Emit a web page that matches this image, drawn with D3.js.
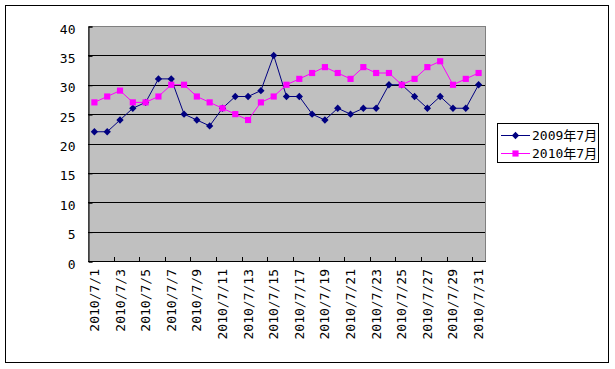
<!DOCTYPE html>
<html>
<head>
<meta charset="utf-8">
<style>
  body { margin: 0; background: #fff; }
  svg text { font-family: "DejaVu Sans Mono", "Noto Sans CJK JP", monospace; font-size: 13px; fill: #000; }
</style>
</head>
<body>
<svg width="615" height="369"></svg>
<script src="https://d3js.org/d3.v7.min.js"></script>
<script>
var days = [];
for (var i = 1; i <= 31; i++) days.push("2010/7/" + i);

var seriesNames = ["2009年7月", "2010年7月"];
var v2009 = [22, 22, 24, 26, 27, 31, 31, 25, 24, 23, 26, 28, 28, 29, 35, 28, 28, 25, 24, 26, 25, 26, 26, 30, 30, 28, 26, 28, 26, 26, 30];
var v2010 = [27, 28, 29, 27, 27, 28, 30, 30, 28, 27, 26, 25, 24, 27, 28, 30, 31, 32, 33, 32, 31, 33, 32, 32, 30, 31, 33, 34, 30, 31, 32];
var yTicks = [0, 5, 10, 15, 20, 25, 30, 35, 40];

var colors = ["#000080", "#ff00ff"];
var series = [v2009, v2010];

var svg = d3.select("svg");

// outer chart border
svg.append("rect")
    .attr("x", 5.5).attr("y", 5.5)
    .attr("width", 603).attr("height", 357)
    .attr("fill", "#fff").attr("stroke", "#000");

var plotL = 88, plotR = 485, plotT = 26, plotB = 261;

var x = d3.scaleBand().domain(days).range([plotL, plotR]).padding(0);
var y = d3.scaleLinear().domain([0, 40]).range([plotB, plotT]);
function cy(v) { return Math.round(y(v)) + 0.5; }
function cx(d) { return x(d) + x.bandwidth() / 2; }

// plot area
svg.append("rect")
    .attr("x", plotL + 0.5).attr("y", plotT + 0.5)
    .attr("width", plotR - plotL).attr("height", plotB - plotT)
    .attr("fill", "#c0c0c0").attr("stroke", "#808080");

// grid lines
svg.append("g").selectAll("line")
    .data(yTicks.filter(function(d) { return d > 0 && d < 40; }))
    .enter().append("line")
    .attr("x1", plotL).attr("x2", plotR)
    .attr("y1", cy).attr("y2", cy)
    .attr("stroke", "#000");

// y axis
var yAxis = svg.append("g")
    .attr("transform", "translate(" + (plotL + 0.5) + ",0.5)")
    .call(d3.axisLeft(y).tickValues(yTicks).tickSize(-4).tickPadding(13));
yAxis.select(".domain").attr("stroke", "#000");
yAxis.selectAll(".tick line").attr("stroke", "#000");
yAxis.selectAll("text").attr("font-family", null).attr("font-size", null).attr("dy", "0.5em");

// x axis baseline + ticks every two days
svg.append("line")
    .attr("x1", plotL).attr("x2", plotR + 1)
    .attr("y1", plotB + 0.5).attr("y2", plotB + 0.5)
    .attr("stroke", "#000");

svg.append("g").selectAll("line")
    .data(days.filter(function(d, i) { return i > 0 && i % 2 == 0; }))
    .enter().append("line")
    .attr("x1", function(d) { return Math.round(x(d)) + 0.5; })
    .attr("x2", function(d) { return Math.round(x(d)) + 0.5; })
    .attr("y1", plotB - 4).attr("y2", plotB)
    .attr("stroke", "#000");

// x labels (odd days), rotated
svg.append("g").selectAll("text")
    .data(days.filter(function(d, i) { return i % 2 == 0; }))
    .enter().append("text")
    .attr("transform", function(d) {
        return "translate(" + (cx(d) + 4.5) + "," + (plotB + 8) + ") rotate(-90)";
    })
    .attr("text-anchor", "end")
    .text(function(d) { return d; });

// lines and markers
var line = d3.line()
    .x(function(d, i) { return cx(days[i]); })
    .y(function(d) { return y(d); });

series.forEach(function(vals, s) {
    svg.append("path")
        .datum(vals)
        .attr("d", line)
        .attr("fill", "none")
        .attr("stroke", colors[s])
        .attr("stroke-width", 1);

    svg.append("g").selectAll("path")
        .data(vals)
        .enter().append("path")
        .attr("transform", function(d, i) {
            return "translate(" + cx(days[i]) + "," + y(d) + ")";
        })
        .attr("d", s == 0 ? d3.symbol(d3.symbolDiamond2, 34) : d3.symbol(d3.symbolSquare, 38))
        .attr("fill", colors[s]);
});

// legend
var legend = svg.append("g");
legend.append("rect")
    .attr("x", 497.5).attr("y", 123.5)
    .attr("width", 101).attr("height", 39)
    .attr("fill", "#fff").attr("stroke", "#000");

var item = legend.selectAll(".item")
    .data(seriesNames)
    .enter().append("g")
    .attr("class", "item")
    .attr("transform", function(d, i) { return "translate(0," + (135 + i * 18) + ")"; });

item.append("line")
    .attr("x1", 501).attr("x2", 530)
    .attr("y1", 0.5).attr("y2", 0.5)
    .attr("stroke", function(d, i) { return colors[i]; });

item.append("path")
    .attr("transform", "translate(515.5,0.5)")
    .attr("d", function(d, i) { return i == 0 ? d3.symbol(d3.symbolDiamond2, 34)() : d3.symbol(d3.symbolSquare, 38)(); })
    .attr("fill", function(d, i) { return colors[i]; });

item.append("text")
    .attr("x", 532).attr("y", 0)
    .attr("dy", "0.4em")
    .text(function(d) { return d; });
</script>
</body>
</html>
